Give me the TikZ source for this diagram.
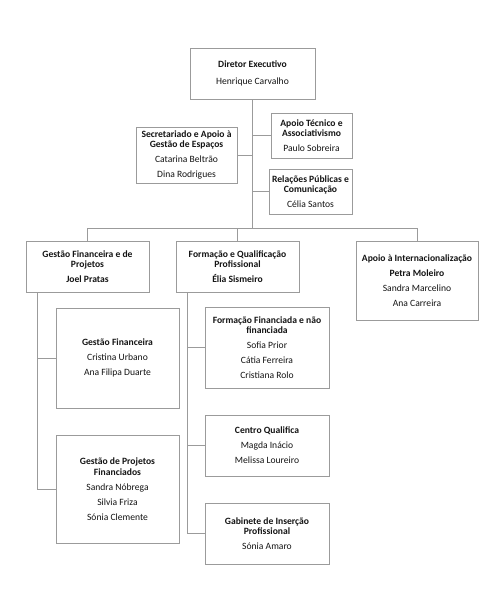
\documentclass[tikz,border=0pt]{standalone}
\usepackage{fontspec}
\setmainfont{Carlito}
\definecolor{boxgray}{RGB}{155,155,155}
\definecolor{linegray}{RGB}{155,155,155}
\definecolor{txt}{RGB}{20,20,20}
\tikzset{
  orgbox/.style={draw=boxgray, line width=0.9pt, fill=white, align=center,
    inner sep=0pt, text=txt, font=\fontsize{9.6}{10.5}\selectfont},
  conn/.style={draw=linegray, line width=0.8pt},
}
\newcommand{\gap}{\\[4.5pt]}
\begin{document}
\begin{tikzpicture}[x=1pt,y=-1pt]
\fill[white] (0,0) rectangle (500,610);
\useasboundingbox (0,0) rectangle (500,610);

\node[orgbox, minimum width=125pt, minimum height=51pt] (dir) at (252.5,73.5)
  {\textbf{Diretor Executivo}\\[6.5pt]Henrique Carvalho};
\node[orgbox, minimum width=101pt, minimum height=56pt] (sec) at (186.5,155)
  {\textbf{Secretariado e Apoio à}\\\textbf{Gestão de Espaços}\gap Catarina Beltrão\gap Dina Rodrigues};
\node[orgbox, minimum width=81pt, minimum height=45pt] (at) at (311.5,135.5)
  {\textbf{Apoio Técnico e}\\\textbf{Associativismo}\gap Paulo Sobreira};
\node[orgbox, minimum width=83pt, minimum height=45pt] (rp) at (310.5,191.5)
  {\textbf{Relações Públicas e}\\\textbf{Comunicação}\gap Célia Santos};

\node[orgbox, minimum width=123pt, minimum height=51pt] (gfp) at (87.5,266.5)
  {\textbf{Gestão Financeira e de}\\\textbf{Projetos}\gap\textbf{Joel Pratas}};
\node[orgbox, minimum width=123pt, minimum height=51pt] (fqp) at (237.5,266.5)
  {\textbf{Formação e Qualificação}\\\textbf{Profissional}\gap\textbf{Élia Sismeiro}};
\node[orgbox, minimum width=122pt, minimum height=79pt] (ai) at (417,280.5)
  {\textbf{Apoio à Internacionalização}\gap\textbf{Petra Moleiro}\gap Sandra Marcelino\gap Ana Carreira};

\node[orgbox, minimum width=123pt, minimum height=100pt] (gf) at (117.5,358)
  {\textbf{Gestão Financeira}\gap Cristina Urbano\gap Ana Filipa Duarte};
\node[orgbox, minimum width=123pt, minimum height=108pt] (gp) at (117.5,489)
  {\textbf{Gestão de Projetos}\\\textbf{Financiados}\gap Sandra Nóbrega\gap Silvia Friza\gap Sónia Clemente};

\node[orgbox, minimum width=124pt, minimum height=81pt] (ff) at (267,347.5)
  {\textbf{Formação Financiada e não}\\\textbf{financiada}\gap Sofia Prior\gap Cátia Ferreira\gap Cristiana Rolo};
\node[orgbox, minimum width=124pt, minimum height=61pt] (cq) at (267,445.5)
  {\textbf{Centro Qualifica}\gap Magda Inácio\gap Melissa Loureiro};
\node[orgbox, minimum width=124pt, minimum height=61pt] (gab) at (267,533.5)
  {\textbf{Gabinete de Inserção}\\\textbf{Profissional}\gap Sónia Amaro};

% top tree
\coordinate (bar) at (252.5,228);
\draw[conn] (dir.south) -- (bar);
\draw[conn] (sec.east) -- (sec.east -| dir.south);
\draw[conn] (at.west) -- (at.west -| dir.south);
\draw[conn] (rp.west) -- (rp.west -| dir.south);
\draw[conn] (gfp.north) -- (gfp.north |- bar) -- (ai.north |- bar) -- (ai.north);
\draw[conn] (fqp.north) -- (fqp.north |- bar);

% left column
\coordinate (lt) at (37.5,292);
\draw[conn] (lt) |- (gp.west);
\draw[conn] (gf.west) -- (gf.west -| lt);

% middle column
\coordinate (mt) at (187,292);
\draw[conn] (mt) |- (gab.west);
\draw[conn] (ff.west) -- (ff.west -| mt);
\draw[conn] (cq.west) -- (cq.west -| mt);
\end{tikzpicture}
\end{document}
